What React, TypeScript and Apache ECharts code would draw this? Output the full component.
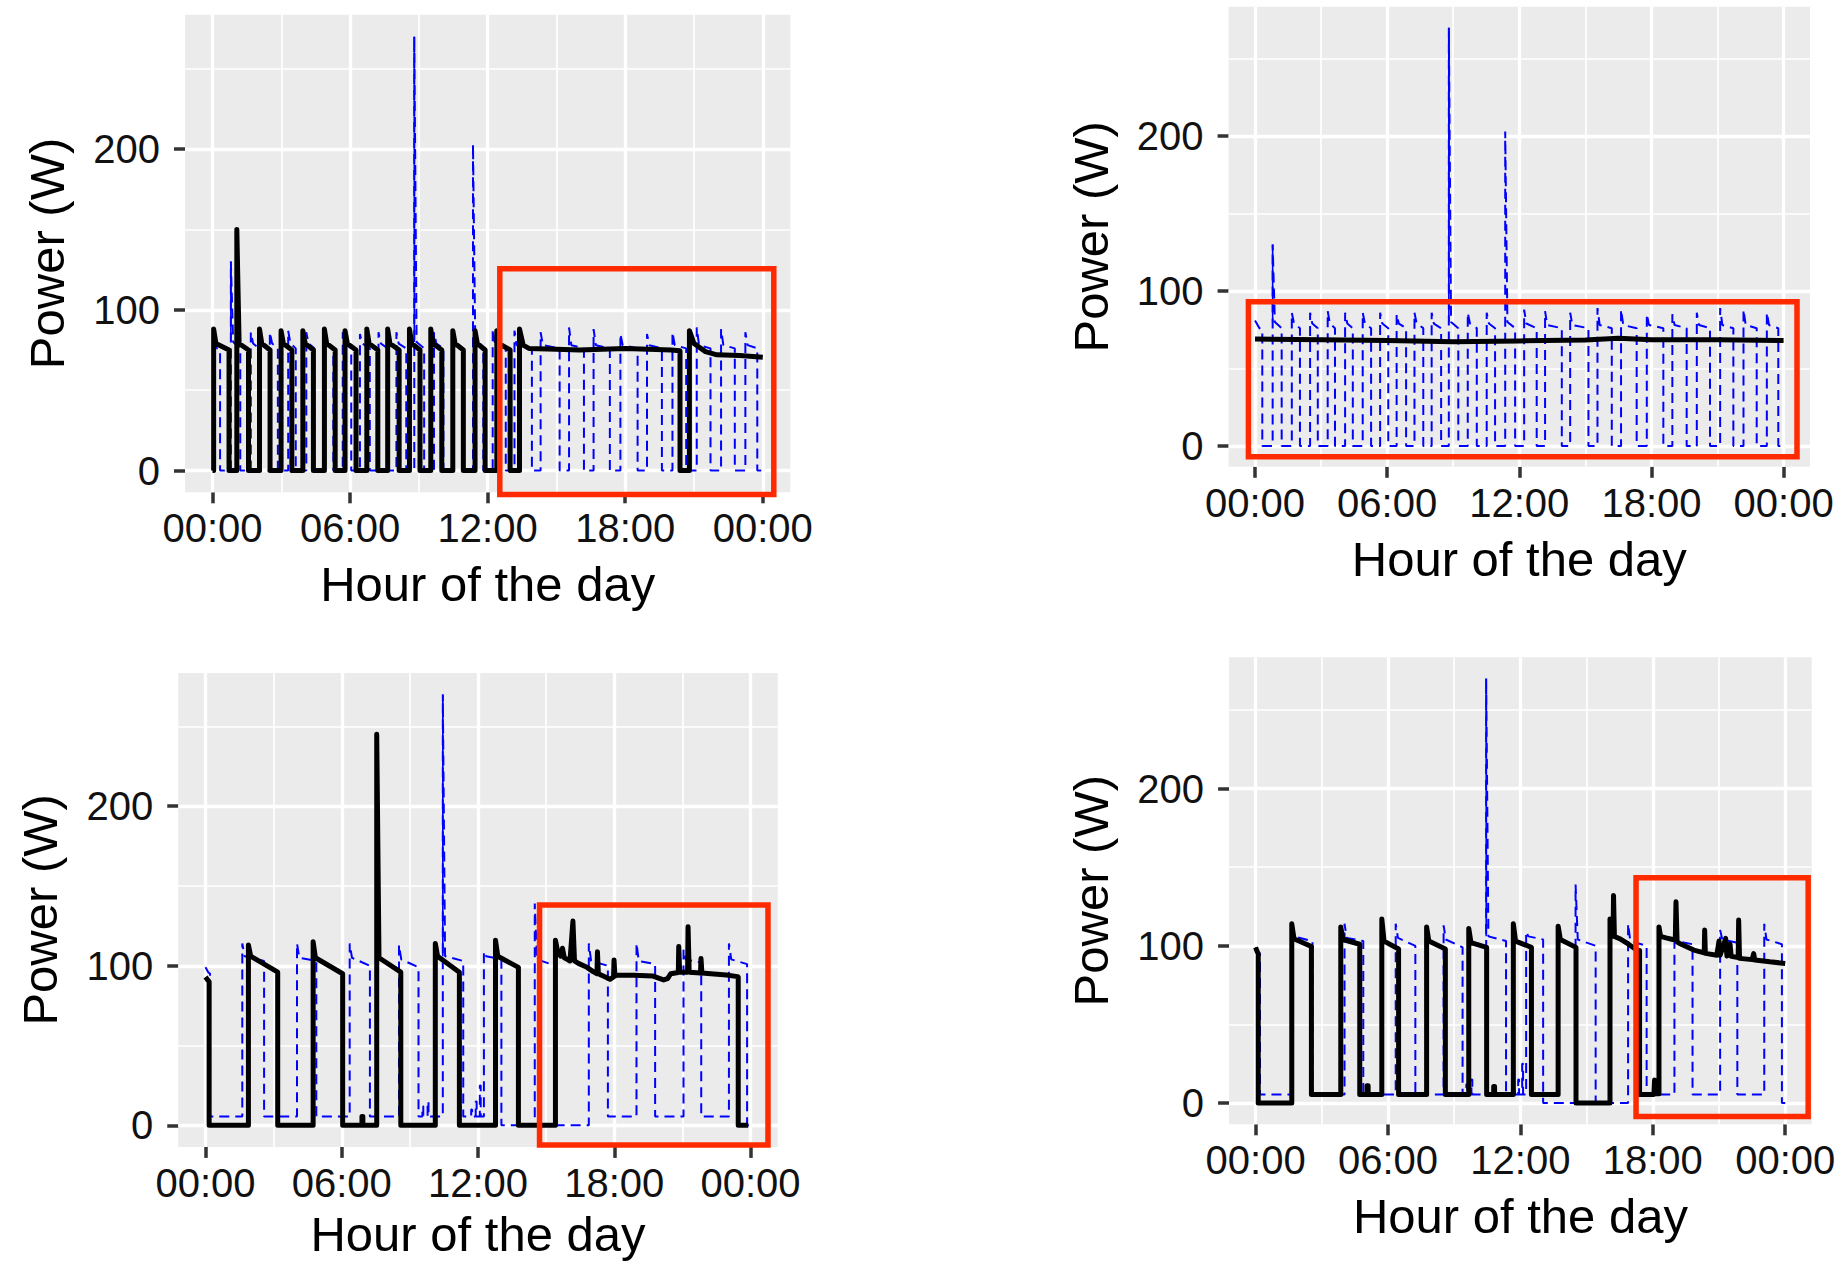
import React, { useEffect, useRef } from "react";
import * as echarts from "echarts";

const FONT = "Liberation Sans, Arial, Helvetica, sans-serif";

// Axis ticks
const hourTicks = [0, 6, 12, 18, 24];
const hourLabels = ["00:00", "06:00", "12:00", "18:00", "00:00"];
const hourMinor = [3, 9, 15, 21];
const powerTicks = [0, 100, 200];
const powerMinor = [50, 150, 250];
const xRange = [-1.2, 25.2];
const yRange = [-13.5, 283.5];

// Pulse rows: [riseHour, fallHour, peakW, afterPeakW, beforeFallW, lowAfterW]

// Blue dashed reference, top panels
const blueAStart = [[0, 81], [0.2, 76], [0.33, 75], [0.33, 0]];
const blueAPulses = [
  [0.8, 1.21, 130, 80, 76, 0],
  [1.67, 2.04, 86, 79, 76, 0],
  [2.5, 2.85, 86, 79, 76, 0],
  [3.3, 3.63, 87, 79, 76, 0],
  [4.09, 4.44, 86, 79, 76, 0],
  [4.89, 5.27, 86, 79, 76, 0],
  [5.68, 6.05, 86, 79, 76, 0],
  [6.43, 6.86, 85, 79, 76, 0],
  [7.24, 7.64, 86, 79, 76, 0],
  [8.02, 8.45, 86, 79, 76, 0],
  [8.8, 9.23, 270, 80, 76, 0],
  [9.66, 10.07, 86, 79, 76, 0],
  [10.52, 10.9, 86, 79, 76, 0],
  [11.36, 11.81, 203, 80, 76, 0],
  [12.22, 12.79, 88, 79, 76, 0],
  [13.17, 13.93, 87, 78, 76, 0],
  [14.31, 15.14, 86, 78, 76, 0],
  [15.55, 16.2, 89, 78, 76, 0],
  [16.62, 17.33, 88, 78, 76, 0],
  [17.79, 18.54, 85, 78, 76, 0],
  [18.95, 19.6, 85, 78, 76, 0],
  [20.06, 20.66, 86, 78, 76, 0],
  [21.12, 21.72, 89, 78, 76, 0],
  [22.18, 22.78, 88, 78, 76, 0],
  [23.24, 23.76, 86, 78, 76, 0],
];
const blueATail = [[24, 0]];
const blueASpikes = [[0.8, 80, 130], [8.8, 80, 270]];

// Blue dashed reference, bottom panels
const blueBStart = [[0, 99], [0.12, 96], [0.2, 95], [0.2, 5.5]];
const blueBPulses = [
  [1.62, 2.58, 114, 106, 103, 5.5],
  [4.03, 4.88, 114, 105, 103, 5.5],
  [6.35, 7.24, 114, 105, 100, 5.5],
  [8.52, 9.38, 113, 104, 99, 5.5],
  [9.55, 9.59, 12, 12, 12, 5.5],
  [9.78, 9.82, 15, 15, 15, 5.5],
  [10.45, 11.35, 270, 106, 103, 5.5],
  [11.7, 11.74, 10, 10, 10, 5.5],
  [11.9, 11.94, 15, 15, 15, 5.5],
  [12.08, 12.12, 25, 25, 25, 5.5],
  [12.26, 13.03, 109, 106, 104, 0],
  [14.5, 15.41, 139, 104, 100, 0],
  [16.88, 17.72, 114, 103, 100, 5.5],
  [18.98, 19.8, 114, 103, 101, 5.5],
  [21.05, 21.83, 110, 104, 102, 5.5],
  [23.05, 23.85, 114, 104, 101, 0],
];
const blueBTail = [[24, 0]];
const blueBSpikes = [[10.45, 106, 270]];

// Black measured, panel 1
const black1Start = [[0, 0]];
const black1Pulses = [
  [0.05, 0.72, 88, 79, 75, 0],
  [1.06, 1.57, 150, 79, 75, 0],
  [2.05, 2.51, 88, 79, 75, 0],
  [2.99, 3.46, 87, 79, 75, 0],
  [3.94, 4.4, 87, 79, 75, 0],
  [4.88, 5.35, 88, 79, 75, 0],
  [5.78, 6.26, 87, 79, 75, 0],
  [6.73, 7.21, 88, 79, 75, 0],
  [7.64, 8.14, 88, 79, 75, 0],
  [8.59, 9.05, 88, 79, 75, 0],
  [9.52, 10.0, 88, 79, 75, 0],
  [10.48, 10.94, 87, 79, 75, 0],
  [11.45, 11.89, 87, 79, 75, 0],
  [12.4, 12.98, 87, 79, 75, 0],
];
const black1Tail = [
  [13.39, 0], [13.39, 88], [13.55, 78], [13.8, 76], [15, 75.5], [16, 75], [17, 75.5],
  [18, 76], [19, 75.5], [20, 75], [20.39, 74.5], [20.39, 0], [20.8, 0], [20.8, 87],
  [21.0, 79], [21.5, 74], [22, 72], [23, 71.5], [24, 70.5],
];

// Black measured, panel 2
const black2Start = [
  [0, 69], [3, 68.5], [6, 68], [9, 67.3], [12, 67.8], [15, 68.3], [16.5, 69.5],
  [18, 68.5], [21, 68.5], [24, 68],
];
const black2Pulses: number[][] = [];
const black2Tail: number[][] = [];

// Black measured, panel 3
const black3Start = [[0, 93], [0.1, 91], [0.16, 90], [0.16, 0]];
const black3Pulses = [
  [1.89, 3.18, 113, 106, 96, 0],
  [4.74, 6.04, 115, 105, 95, 0],
  [6.89, 6.93, 5.5, 5.5, 5.5, 0],
  [7.54, 8.6, 245, 105, 96, 0],
  [10.12, 11.18, 114, 106, 96, 0],
  [12.77, 13.78, 116, 106, 99, 0],
];
const black3Tail = [
  [15.41, 0], [15.41, 116], [15.52, 108], [15.65, 106], [15.72, 111], [15.8, 105],
  [15.93, 104], [16.05, 103], [16.18, 128], [16.25, 103], [16.42, 101.5], [16.8, 99],
  [17.07, 96.3], [17.24, 95], [17.26, 108.8], [17.3, 95], [17.56, 93.2], [17.81, 91.5],
  [17.97, 93], [17.99, 103.6], [18.03, 93.5], [18.1, 94], [18.86, 94], [19.68, 93.6],
  [20.17, 91.1], [20.35, 92], [20.49, 95], [20.82, 95.8], [20.84, 112], [20.88, 96],
  [21.23, 96], [21.25, 124.5], [21.3, 96], [21.8, 95.5], [21.82, 104.6], [21.86, 95.5],
  [22.12, 95.2], [22.94, 94.2], [23.43, 93.2], [23.46, 93], [23.46, 0], [23.9, 0],
];

// Black measured, panel 4
const black4Start = [[0, 99], [0.08, 96], [0.12, 95], [0.12, 0]];
const black4Pulses = [
  [1.64, 2.53, 114, 104.5, 99.5, 5.5],
  [3.86, 4.72, 112, 104, 101, 5.5],
  [5.05, 5.1, 11, 11, 11, 5.5],
  [5.72, 6.48, 117, 103, 98, 5.5],
  [7.75, 8.6, 112, 103, 98, 5.5],
  [9.66, 10.47, 111, 102, 99, 5.5],
  [10.79, 10.83, 10.5, 10.5, 10.5, 5.5],
  [11.68, 12.5, 114, 103, 99, 5.5],
  [13.71, 14.52, 112.5, 104, 99, 0],
];
const black4Tail = [
  [16.06, 0], [16.06, 117], [16.1, 106], [16.2, 106], [16.22, 132], [16.26, 106],
  [16.5, 104.5], [16.9, 101], [17.27, 97.3], [17.4, 97], [17.4, 5.5], [18.05, 5.5],
  [18.08, 14.6], [18.12, 6], [18.28, 6], [18.28, 112], [18.35, 106], [18.6, 105],
  [18.9, 104], [19.02, 104], [19.05, 128], [19.1, 102.5], [19.21, 101.5], [19.86, 97.3],
  [20.33, 95.5], [20.35, 110], [20.38, 95.2], [20.9, 94], [21.0, 103], [21.05, 94],
  [21.2, 100], [21.3, 104.7], [21.36, 93.5], [21.5, 101], [21.55, 93.3], [21.87, 92.5],
  [21.89, 116.4], [21.93, 92], [22.5, 91.2], [22.57, 95], [22.62, 91], [23.3, 89.8],
  [24.0, 88.8],
];

// Red highlight boxes in data units: [x1, x2, yTop, yBottom]
const box1 = [12.53, 24.48, 125.5, -14.9];
const box2 = [-0.3, 24.61, 93.1, -7.0];
const box3 = [14.71, 24.77, 138.1, -12.3];
const box4 = [17.24, 25.04, 143.3, -8.6];

function buildSteps(start: number[][], pulses: number[][], tail: number[][]) {
  const pts: number[][] = start.map((p) => [p[0], p[1]]);
  for (const [r, f, pk, p1, p2, low] of pulses) {
    const prevLow = pts[pts.length - 1][1];
    const knee = r + Math.min(0.1, (f - r) / 3);
    pts.push([r, prevLow], [r, pk], [knee, p1], [f, p2], [f, low]);
  }
  return pts.concat(tail.map((p) => [p[0], p[1]]));
}

const blueA = buildSteps(blueAStart, blueAPulses, blueATail);
const blueB = buildSteps(blueBStart, blueBPulses, blueBTail);

const panels = [
  { black: buildSteps(black1Start, black1Pulses, black1Tail), blue: blueA, spikes: blueASpikes, box: box1 },
  { black: buildSteps(black2Start, black2Pulses, black2Tail), blue: blueA, spikes: blueASpikes, box: box2 },
  { black: buildSteps(black3Start, black3Pulses, black3Tail), blue: blueB, spikes: blueBSpikes, box: box3 },
  { black: buildSteps(black4Start, black4Pulses, black4Tail), blue: blueB, spikes: blueBSpikes, box: box4 },
];

const grids = [
  { left: 185, top: 14.7, width: 605.3, height: 477.6 },
  { left: 1228.6, top: 6.8, width: 581.4, height: 460 },
  { left: 178.25, top: 672.9, width: 599.5, height: 474 },
  { left: 1229.1, top: 657.2, width: 582.6, height: 467.1 },
];

function buildOption() {
  const grid = grids.map((g) => ({
    left: g.left,
    top: g.top,
    width: g.width,
    height: g.height,
    show: true,
    backgroundColor: "#EBEBEB",
    borderWidth: 0,
    containLabel: false,
    outerBoundsMode: "none",
  }));
  const tickStyle = { color: "#333333", width: 3.5 };
  const labelBase = { fontSize: 40, color: "#111111", fontFamily: FONT };
  const xAxis = grids.map((_, i) => ({
    type: "value",
    gridIndex: i,
    min: xRange[0],
    max: xRange[1],
    axisLine: { show: false, onZero: false },
    splitLine: { show: false },
    axisTick: { show: true, customValues: hourTicks, length: 11, lineStyle: tickStyle },
    axisLabel: {
      ...labelBase,
      customValues: hourTicks,
      margin: 16,
      formatter: (v: number) => {
        const k = hourTicks.indexOf(Math.round(v));
        return k >= 0 ? hourLabels[k] : "";
      },
    },
  }));
  const yAxis = grids.map((_, i) => ({
    type: "value",
    gridIndex: i,
    min: yRange[0],
    max: yRange[1],
    axisLine: { show: false, onZero: false },
    splitLine: { show: false },
    axisTick: { show: true, customValues: powerTicks, length: 11, lineStyle: tickStyle },
    axisLabel: { ...labelBase, customValues: powerTicks, margin: 25, formatter: (v: number) => String(Math.round(v)) },
  }));

  const series: any[] = [];
  panels.forEach((p, i) => {
    const major = { color: "#ffffff", width: 3.3, type: "solid" };
    const minor = { color: "#ffffff", width: 1.7, type: "solid" };
    series.push({
      type: "line",
      xAxisIndex: i,
      yAxisIndex: i,
      data: [[0, 0]],
      symbol: "none",
      lineStyle: { opacity: 0 },
      silent: true,
      z: 1,
      markLine: {
        silent: true,
        symbol: ["none", "none"],
        z: 1,
        label: { show: false },
        emphasis: { disabled: true },
        lineStyle: { color: "#ffffff", type: "solid" },
        data: [
          ...powerMinor.map((v) => ({ yAxis: v, lineStyle: minor })),
          ...hourMinor.map((v) => ({ xAxis: v, lineStyle: minor })),
          ...powerTicks.map((v) => ({ yAxis: v, lineStyle: major })),
          ...hourTicks.map((v) => ({ xAxis: v, lineStyle: major })),
        ],
      },
    });
    series.push({
      type: "line",
      xAxisIndex: i,
      yAxisIndex: i,
      data: p.blue,
      symbol: "none",
      showSymbol: false,
      silent: true,
      z: 2,
      lineStyle: { color: "#0000ff", width: 2, type: [10, 6] },
    });
    p.spikes.forEach((s) => {
      series.push({
        type: "line",
        xAxisIndex: i,
        yAxisIndex: i,
        data: [[s[0], s[1]], [s[0], s[2]]],
        symbol: "none",
        showSymbol: false,
        silent: true,
        z: 2,
        lineStyle: { color: "#0000ff", width: 1.6, type: "solid" },
      });
    });
    series.push({
      type: "line",
      xAxisIndex: i,
      yAxisIndex: i,
      data: p.black,
      symbol: "none",
      showSymbol: false,
      silent: true,
      z: 3,
      lineStyle: { color: "#000000", width: 5, type: "solid", join: "round" },
    });
  });

  return {
    animation: false,
    backgroundColor: "#ffffff",
    grid,
    xAxis,
    yAxis,
    series,
  };
}

export default function App() {
  const ref = useRef<HTMLDivElement>(null);
  useEffect(() => {
    const el = ref.current;
    if (!el) return;
    const chart = echarts.init(el, null, { renderer: "svg" });
    chart.setOption(buildOption() as any);

    const graphics: any[] = [];
    grids.forEach((g) => {
      graphics.push({
        type: "text",
        x: g.left + g.width / 2,
        y: Math.min(g.top + g.height + 92, 1234),
        silent: true,
        style: {
          text: "Hour of the day",
          fontSize: 49,
          fontFamily: FONT,
          fill: "#000000",
          align: "center",
          verticalAlign: "middle",
          textAlign: "center",
          textVerticalAlign: "middle",
        },
      });
      graphics.push({
        type: "text",
        x: g.left - 138,
        y: g.top + g.height / 2,
        rotation: Math.PI / 2,
        silent: true,
        style: {
          text: "Power (W)",
          fontSize: 49,
          fontFamily: FONT,
          fill: "#000000",
          align: "center",
          verticalAlign: "middle",
          textAlign: "center",
          textVerticalAlign: "middle",
        },
      });
    });
    panels.forEach((p, i) => {
      const [x1, x2, yt, yb] = p.box;
      const a = chart.convertToPixel({ gridIndex: i } as any, [x1, yt]) as number[];
      const b = chart.convertToPixel({ gridIndex: i } as any, [x2, yb]) as number[];
      graphics.push({
        type: "rect",
        silent: true,
        z: 100,
        shape: { x: a[0], y: a[1], width: b[0] - a[0], height: b[1] - a[1] },
        style: { fill: "transparent", stroke: "#ff2a00", lineWidth: 5.5 },
      });
    });
    chart.setOption({ graphic: graphics } as any);
    return () => chart.dispose();
  }, []);
  return (
    <div
      ref={ref}
      style={{ position: "absolute", left: 0, top: 0, width: 1840, height: 1265, background: "#ffffff" }}
    />
  );
}
